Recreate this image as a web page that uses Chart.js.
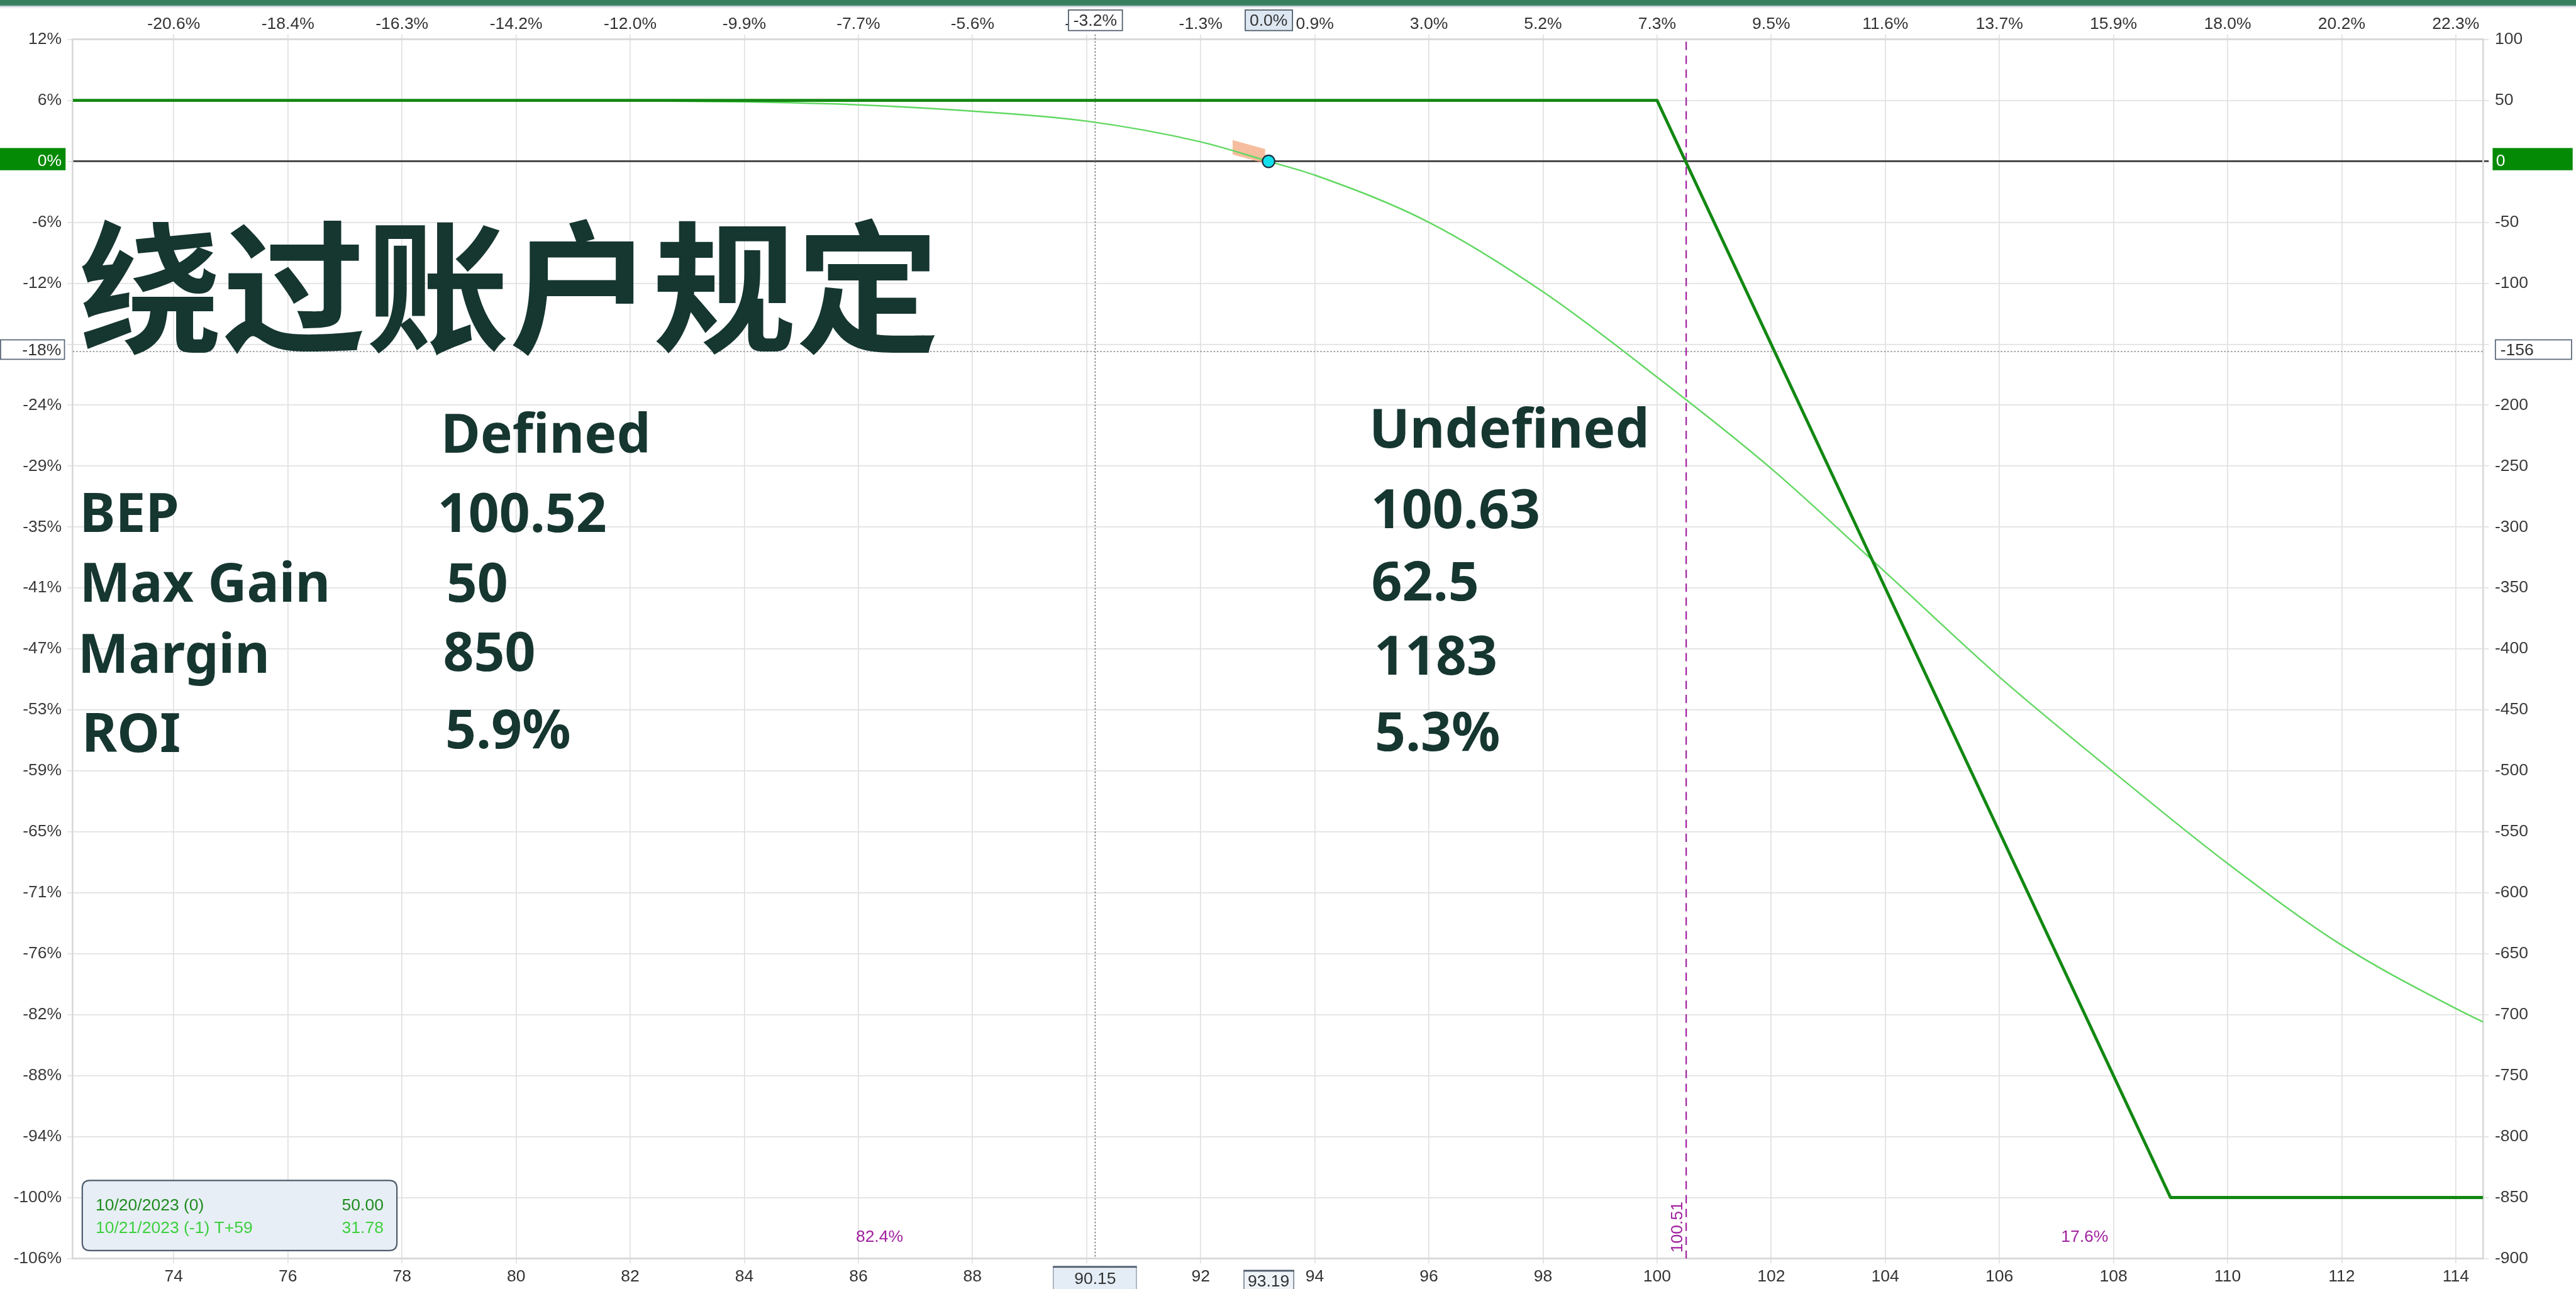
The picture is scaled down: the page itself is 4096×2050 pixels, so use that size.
<!DOCTYPE html>
<html>
<head>
<meta charset="utf-8">
<script src="https://cdn.jsdelivr.net/npm/chart.js@4.4.1/dist/chart.umd.min.js"></script>
<style>
  html, body { margin: 0; padding: 0; background: #fff; overflow: hidden; }
  #pl { display: block; width: 4096px; height: 2050px; }
</style>
</head>
<body>
<canvas id="pl" width="4096" height="2050"></canvas>
<script>
// price range and axis ticks
const priceMin = 72.23;
const priceMax = 114.48;
const xTicks = [74, 76, 78, 80, 82, 84, 86, 88, 90, 92, 94, 96, 98, 100, 102, 104, 106, 108, 110, 112, 114];
const topLabels = ['-20.6%', '-18.4%', '-16.3%', '-14.2%', '-12.0%', '-9.9%', '-7.7%', '-5.6%', '-3.4%', '-1.3%',
  '0.9%', '3.0%', '5.2%', '7.3%', '9.5%', '11.6%', '13.7%', '15.9%', '18.0%', '20.2%', '22.3%'];
const yTicks = [100, 50, 0, -50, -100, -150, -200, -250, -300, -350, -400, -450, -500, -550, -600, -650, -700, -750, -800, -850, -900];
const leftLabels = ['12%', '6%', '0%', '-6%', '-12%', '-18%', '-24%', '-29%', '-35%', '-41%', '-47%', '-53%', '-59%',
  '-65%', '-71%', '-76%', '-82%', '-88%', '-94%', '-100%', '-106%'];

// expiration P&L
const expX = [72.23, 100, 109, 114.48];
const expY = [50, 50, -850, -850];

// T+59 P&L curve
const t59X = [72.23, 78, 80, 82, 84, 86, 88, 90, 92, 93.19, 94, 96, 98, 100, 102, 104, 106, 108, 110, 112, 114, 114.48];
const t59Y = [50, 50, 49.9, 49.6, 48.8, 46.4, 41.2, 33, 16, 0, -11.3, -50, -107, -177, -252, -337, -423, -501, -576, -643, -695, -706];

// slider highlight near the current price
const hiliteX = [92.56, 93.13];
const hiliteY = [11.5, 4.2];

const spot = 93.19;
const spotPnl = 0;
const crossX = 90.15;
const crossPnl = -156;
const bep = 100.51;
const bepLabel = '100.51';
const probs = ['82.4%', '17.6%'];
const crossLabels = { top: '-3.2%', bottom: '90.15', left: '-18%', right: '-156' };
const spotLabels = { top: '0.0%', bottom: '93.19' };
const zeroLabels = { left: '0%', right: '0' };
const legendRows = [['10/20/2023 (0)', '50.00'], ['10/21/2023 (-1) T+59', '31.78']];

const title = '绕过账户规定';
const rowLabels = ['BEP', 'Max Gain', 'Margin', 'ROI'];
const definedVals = ['100.52', '50', '850', '5.9%'];
const undefinedVals = ['100.63', '62.5', '1183', '5.3%'];

// everything is measured on the big reference and scaled down
const S = 4096 / 4634;
const px = v => v * S;

const TEXT = '#163630';
const AXIS_FONT = 'Liberation Sans, Arial, sans-serif';
const GRID = '#e2e2e2';
const EDGE = '#d8d8d8';
const PURPLE = '#a0229f';

function box(c, x, y, w, h, fill, stroke, lw) {
  c.fillStyle = fill;
  c.fillRect(x, y, w, h);
  if (stroke) {
    c.strokeStyle = stroke;
    c.lineWidth = lw;
    c.strokeRect(x + lw / 2, y + lw / 2, w - lw, h - lw);
  }
}

function roundBox(c, x, y, w, h, r) {
  c.beginPath();
  c.moveTo(x + r, y);
  c.lineTo(x + w - r, y);
  c.quadraticCurveTo(x + w, y, x + w, y + r);
  c.lineTo(x + w, y + h - r);
  c.quadraticCurveTo(x + w, y + h, x + w - r, y + h);
  c.lineTo(x + r, y + h);
  c.quadraticCurveTo(x, y + h, x, y + h - r);
  c.lineTo(x, y + r);
  c.quadraticCurveTo(x, y, x + r, y);
  c.closePath();
}

// tick labels that sit under the crosshair price box are not shown
const tickColor = base => ctx => (ctx.tick && Math.abs(ctx.tick.value - crossPnl) < 15 ? 'rgba(0,0,0,0)' : base);

const overlay = {
  id: 'overlay',
  beforeDraw(chart) {
    const c = chart.ctx;
    c.save();
    c.fillStyle = '#fff';
    c.fillRect(0, 0, chart.width, chart.height);
    c.restore();
  },
  beforeDatasetsDraw(chart) {
    const { ctx: c, chartArea: a, scales } = chart;
    const xs = scales.x, ys = scales.y;
    const cx = xs.getPixelForValue(crossX);
    const cy = ys.getPixelForValue(crossPnl);
    const bx = xs.getPixelForValue(bep);
    c.save();
    c.setLineDash([px(3), px(3)]);
    c.strokeStyle = '#666';
    c.lineWidth = px(1.5);
    c.beginPath(); c.moveTo(cx, a.top - px(9)); c.lineTo(cx, a.bottom); c.stroke();
    c.strokeStyle = '#9a9a9a';
    c.lineWidth = px(2);
    c.beginPath(); c.moveTo(a.left, cy); c.lineTo(a.right, cy); c.stroke();
    c.setLineDash([px(15), px(10)]);
    c.strokeStyle = PURPLE;
    c.lineWidth = px(2.5);
    c.beginPath(); c.moveTo(bx, a.top + px(4)); c.lineTo(bx, a.bottom); c.stroke();
    c.setLineDash([]);

    // slider patch
    const h = px(13);
    const x0 = xs.getPixelForValue(hiliteX[0]), y0 = ys.getPixelForValue(hiliteY[0]);
    const x1 = xs.getPixelForValue(hiliteX[1]), y1 = ys.getPixelForValue(hiliteY[1]);
    c.fillStyle = 'rgba(243,165,120,0.72)';
    c.beginPath();
    c.moveTo(x0, y0 - h); c.lineTo(x1, y1 - h); c.lineTo(x1, y1 + h); c.lineTo(x0, y0 + h);
    c.closePath();
    c.fill();
    c.restore();
  },
  afterDatasetsDraw(chart) {
    const c = chart.ctx;
    c.save();
    c.fillStyle = TEXT;
    c.textAlign = 'left';
    c.textBaseline = 'alphabetic';
    c.font = `700 ${px(258)}px "Noto Sans CJK SC"`;
    c.fillText(title, px(142), px(616));

    c.font = `700 ${px(97)}px "Noto Sans"`;
    c.fillText('Defined', px(793), px(815));
    c.fillText('Undefined', px(2463), px(806));
    const lblX = [143, 143, 140, 147];
    const lblY = [957, 1083, 1210, 1353];
    const defX = [787, 803, 797, 801];
    const defY = [957, 1083, 1207, 1346];
    const undX = [2466, 2467, 2472, 2473];
    const undY = [950, 1080, 1214, 1351];
    rowLabels.forEach((t, i) => c.fillText(t, px(lblX[i]), px(lblY[i])));
    definedVals.forEach((t, i) => c.fillText(t, px(defX[i]), px(defY[i])));
    undefinedVals.forEach((t, i) => c.fillText(t, px(undX[i]), px(undY[i])));
    c.restore();
  },
  afterDraw(chart) {
    const { ctx: c, chartArea: a, scales } = chart;
    const W = chart.width;
    const cx = scales.x.getPixelForValue(crossX);
    const cy = scales.y.getPixelForValue(crossPnl);
    const sx = scales.x.getPixelForValue(spot);
    const zy = scales.y.getPixelForValue(0);
    const bx = scales.x.getPixelForValue(bep);
    c.save();

    // top band
    c.fillStyle = '#37805f';
    c.fillRect(0, 0, W, px(10));
    c.fillStyle = '#a3b1bb';
    c.fillRect(0, px(10), W, px(2));
    c.fillStyle = '#eef1f3';
    c.fillRect(0, px(12), W, px(3));

    c.font = `${px(30)}px ${AXIS_FONT}`;
    c.textBaseline = 'middle';

    // zero labels
    box(c, 0, zy - px(24), px(118), px(40), '#058a05');
    box(c, a.right + px(17), zy - px(24), px(144), px(40), '#058a05');
    c.fillStyle = '#fff';
    c.textAlign = 'right';
    c.fillText(zeroLabels.left, px(111), zy);
    c.textAlign = 'left';
    c.fillText(zeroLabels.right, a.right + px(23), zy);

    // crosshair labels
    box(c, 0, cy - px(22), px(117), px(37), '#fff', '#5a6878', px(2));
    box(c, a.right + px(21), cy - px(22), px(139), px(37), '#fff', '#5a6878', px(2));
    c.fillStyle = '#333';
    c.textAlign = 'right';
    c.fillText(crossLabels.left, px(110), cy - px(2));
    c.textAlign = 'left';
    c.fillText(crossLabels.right, a.right + px(31), cy - px(2));

    c.textAlign = 'center';
    box(c, cx - px(49), px(17), px(99), px(39), '#fff', '#4e5c6b', px(2));
    box(c, sx - px(43), px(17), px(87), px(39), '#dde7f2', '#4e5c6b', px(2));
    c.fillStyle = '#333';
    c.fillText(crossLabels.top, cx, px(38));
    c.fillText(spotLabels.top, sx, px(38));

    box(c, cx - px(76), px(2278), px(151), px(45), '#e4edf6', '#8a9aa8', px(1.5));
    c.fillStyle = '#4e5c6b';
    c.fillRect(cx - px(76), px(2278), px(151), px(3));
    box(c, sx - px(45), px(2285), px(91), px(40), '#eef3f8', '#5a6878', px(1.5));
    c.fillStyle = '#4e5c6b';
    c.fillRect(sx - px(45), px(2285), px(91), px(3));
    c.fillStyle = '#333';
    c.fillText(crossLabels.bottom, cx, px(2302));
    c.fillText(spotLabels.bottom, sx, px(2307));

    // probabilities either side of the breakeven
    c.fillStyle = PURPLE;
    c.fillText(probs[0], (a.left + bx) / 2, px(2226));
    c.fillText(probs[1], (bx + a.right) / 2, px(2226));
    c.translate(bx - px(15), px(2208));
    c.rotate(-Math.PI / 2);
    c.fillText(bepLabel, 0, 0);
    c.setTransform(1, 0, 0, 1, 0, 0);

    // legend
    roundBox(c, px(148), px(2124), px(566), px(126), px(14));
    c.fillStyle = '#e7eef6';
    c.fill();
    c.strokeStyle = '#4e5c6b';
    c.lineWidth = px(2.5);
    c.stroke();
    const rowCol = ['#1f8c1f', '#3fcf3f'];
    legendRows.forEach((r, i) => {
      const y = px(2170 + i * 40);
      c.fillStyle = rowCol[i];
      c.textAlign = 'left';
      c.fillText(r[0], px(172), y);
      c.textAlign = 'right';
      c.fillText(r[1], px(690), y);
    });
    c.restore();
  }
};

const pts = (xs, ys) => xs.map((x, i) => ({ x, y: ys[i] }));

const tickFont = { family: AXIS_FONT, size: px(30) };
const edge = { display: true, color: EDGE, width: px(3) };

new Chart(document.getElementById('pl'), {
  type: 'line',
  data: {
    datasets: [
      {
        label: 'Expiration',
        data: pts(expX, expY),
        borderColor: '#128812',
        borderWidth: px(5.5),
        pointRadius: 0,
        borderJoinStyle: 'round',
        order: 1
      },
      {
        label: 'T+59',
        data: pts(t59X, t59Y),
        borderColor: '#62d862',
        borderWidth: px(2.8),
        pointRadius: 0,
        cubicInterpolationMode: 'monotone',
        order: 2
      },
      {
        label: 'spot',
        type: 'scatter',
        data: [{ x: spot, y: spotPnl }],
        pointRadius: px(11),
        pointBackgroundColor: '#14e0ec',
        pointBorderColor: '#1d2f3f',
        pointBorderWidth: px(2.5),
        order: 0
      }
    ]
  },
  options: {
    responsive: false,
    devicePixelRatio: 1,
    animation: false,
    events: [],
    layout: { padding: 0 },
    plugins: { legend: { display: false }, tooltip: { enabled: false } },
    scales: {
      x: {
        type: 'linear',
        position: 'bottom',
        min: priceMin,
        max: priceMax,
        afterBuildTicks: s => { s.ticks = xTicks.map(v => ({ value: v })); },
        afterFit: s => { s.height = px(55); },
        ticks: { font: tickFont, color: '#333', padding: px(6), autoSkip: false, maxRotation: 0 },
        grid: { color: GRID, lineWidth: px(2), tickLength: px(9) },
        border: edge
      },
      xTop: {
        type: 'linear',
        position: 'top',
        min: priceMin,
        max: priceMax,
        afterBuildTicks: s => { s.ticks = xTicks.map(v => ({ value: v })); },
        afterFit: s => { s.height = px(71); },
        ticks: { font: tickFont, color: '#333', padding: 0, autoSkip: false, maxRotation: 0,
          callback: (v, i) => topLabels[i] },
        grid: { color: GRID, lineWidth: px(2), tickLength: px(9), drawOnChartArea: false },
        border: edge
      },
      y: {
        type: 'linear',
        position: 'right',
        min: -900,
        max: 100,
        afterBuildTicks: s => { s.ticks = yTicks.map(v => ({ value: v })); },
        afterFit: s => { s.width = px(167); },
        ticks: { font: tickFont, color: tickColor('#3a3a3a'), padding: px(11), autoSkip: false },
        grid: {
          color: ctx => (ctx.tick && ctx.tick.value === 0 ? '#3a3a3a' : GRID),
          lineWidth: ctx => (ctx.tick && ctx.tick.value === 0 ? px(3) : px(2)),
          tickLength: px(10)
        },
        border: edge
      },
      yL: {
        type: 'linear',
        position: 'left',
        min: -900,
        max: 100,
        afterBuildTicks: s => { s.ticks = yTicks.map(v => ({ value: v })); },
        afterFit: s => { s.width = px(131); },
        ticks: { font: tickFont, color: tickColor('#3a3a3a'), padding: px(10), autoSkip: false,
          callback: (v, i) => leftLabels[i] },
        grid: { color: GRID, lineWidth: px(2), tickLength: px(10), drawOnChartArea: false },
        border: edge
      }
    }
  },
  plugins: [overlay]
});
</script>
</body>
</html>
